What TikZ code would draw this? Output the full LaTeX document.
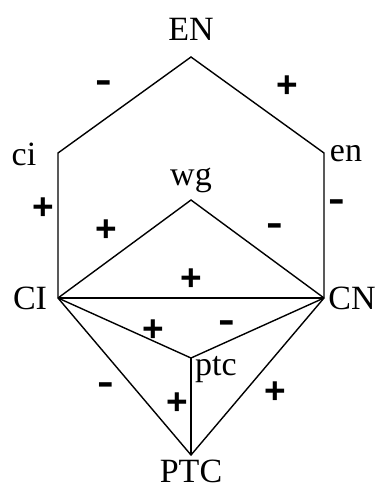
\documentclass[tikz,border=0pt]{standalone}
\usepackage{fontspec}
\setmainfont{Liberation Serif}
\newfontfamily\signfont{Liberation Sans}
\newcommand{\mns}{\scalebox{1.35}[1]{-}}
\begin{document}
\begin{tikzpicture}[x=1pt,y=-1pt,
  lbl/.style={inner sep=0pt,font=\fontsize{34}{40}\selectfont},
  sgn/.style={inner sep=0pt,font=\signfont\bfseries\fontsize{37}{40}\selectfont},
  edge/.style={line width=1.4pt,line join=miter}]
\useasboundingbox (0,0) rectangle (378,489);
% vertices
\coordinate (en0) at (191,57);
\coordinate (ci0) at (58,153);
\coordinate (en1) at (324,153);
\coordinate (CI0) at (58,298);
\coordinate (CN0) at (324,298);
\coordinate (wg0) at (191,200);
\coordinate (ptc0) at (191,358);
\coordinate (PTC0) at (191,455);
% labels
\node[lbl] (EN) at (191,29) {EN};
\node[lbl] (ci) at (24,154) {ci};
\node[lbl] (en) at (346,154) {en};
\node[lbl] (wg) at (191,180) {wg};
\node[lbl] (CI) at (30,298) {CI};
\node[lbl] (CN) at (352,298) {CN};
\node[lbl] (ptc) at (216,370) {ptc};
\node[lbl] (PTC) at (191,471) {PTC};
% edges
\draw[edge] (CI0) -- (ci0) -- (en0) -- (en1) -- (CN0);
\draw[edge] (CI0) -- (wg0) -- (CN0);
\draw[edge] (CI0) -- (CN0);
\draw[edge] (CI0) -- (ptc0) -- (CN0);
\draw[edge] (CI0) -- (PTC0) -- (CN0);
\draw[edge] (ptc0) -- (PTC0);
% signs
\node[sgn] (s1) at (104,87) {\mns};
\node[sgn] (s2) at (287,87) {+};
\node[sgn] (s3) at (43,209) {+};
\node[sgn] (s4) at (337,206) {\mns};
\node[sgn] (s5) at (106,231) {+};
\node[sgn] (s6) at (275,230) {\mns};
\node[sgn] (s7) at (191,280) {+};
\node[sgn] (s8) at (153,331) {+};
\node[sgn] (s9) at (227,327) {\mns};
\node[sgn] (s10) at (106,389) {\mns};
\node[sgn] (s11) at (177,404) {+};
\node[sgn] (s12) at (275,393) {+};
\end{tikzpicture}
\end{document}
